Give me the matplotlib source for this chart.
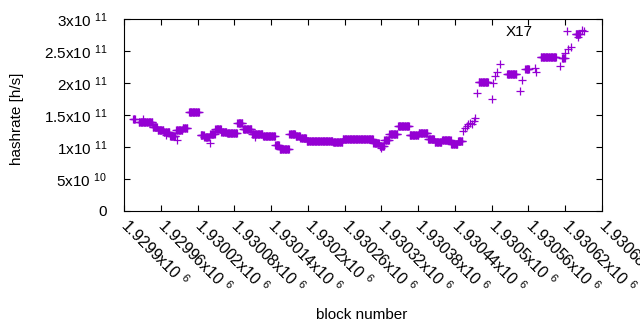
import matplotlib
matplotlib.use('Agg')
import matplotlib.pyplot as plt
import numpy as np

# --- data: runs of blocks with a constant hashrate ---
# (first block, last block, hashrate in units of 1e11 h/s)
run_start = [1929915, 1929924, 1929931, 1929947, 1929955, 1929965, 1929968, 1929975,
             1929986, 1929985, 1929996, 1930006, 1930025, 1930031, 1930040, 1930041,
             1930049, 1930059, 1930068, 1930085, 1930094, 1930109, 1930113, 1930127,
             1930147, 1930154, 1930170, 1930180, 1930188, 1930198, 1930241, 1930257,
             1930307, 1930317, 1930320, 1930325, 1930333, 1930347, 1930366, 1930381,
             1930396, 1930407, 1930419, 1930434, 1930445,
             1930453, 1930456, 1930459, 1930462, 1930465, 1930468, 1930471, 1930473,
             1930476, 1930479, 1930501, 1930502, 1930505, 1930509, 1930514,
             1930525, 1930546, 1930549, 1930555, 1930570, 1930572,
             1930580, 1930611, 1930615, 1930620, 1930625, 1930629,
             1930637, 1930641, 1930648, 1930651]
run_end = [1929918, 1929946, 1929931, 1929954, 1929964, 1929974, 1929968, 1929984,
           1929986, 1929995, 1930003, 1930022, 1930030, 1930038, 1930040, 1930048,
           1930058, 1930067, 1930084, 1930093, 1930108, 1930126, 1930113, 1930146,
           1930153, 1930169, 1930179, 1930187, 1930197, 1930240, 1930256, 1930306,
           1930316, 1930324, 1930320, 1930332, 1930346, 1930365, 1930380, 1930395,
           1930406, 1930418, 1930433, 1930444, 1930452,
           1930453, 1930456, 1930459, 1930462, 1930465, 1930468, 1930471, 1930473,
           1930476, 1930494, 1930501, 1930502, 1930505, 1930509, 1930514,
           1930540, 1930546, 1930549, 1930561, 1930570, 1930572,
           1930605, 1930611, 1930619, 1930620, 1930625, 1930629,
           1930644, 1930641, 1930648, 1930651]
run_value = [1.43, 1.39, 1.44, 1.32, 1.26, 1.23, 1.19, 1.17,
             1.11, 1.27, 1.30, 1.54, 1.195, 1.15, 1.07, 1.20,
             1.28, 1.24, 1.22, 1.37, 1.28, 1.20, 1.16, 1.17,
             1.03, 0.97, 1.20, 1.17, 1.14, 1.10, 1.08, 1.125,
             1.07, 1.02, 0.98, 1.11, 1.20, 1.33, 1.19, 1.22,
             1.125, 1.08, 1.11, 1.04, 1.09,
             1.25, 1.30, 1.33, 1.36, 1.38, 1.36, 1.41, 1.45,
             1.84, 2.02, 1.75, 2.00, 2.11, 2.17, 2.30,
             2.14, 1.875, 2.05, 2.22, 2.23, 2.17,
             2.41, 2.27, 2.39, 2.47, 2.53, 2.57,
             2.77, 2.72, 2.83, 2.81]

yticks = [0, 0.5e11, 1e11, 1.5e11, 2e11, 2.5e11, 3e11]
ytick_labels = ['0', '5x10 $^{10}$', '1x10 $^{11}$', '1.5x10 $^{11}$',
                '2x10 $^{11}$', '2.5x10 $^{11}$', '3x10 $^{11}$']
xticks = [1929900, 1929960, 1930020, 1930080, 1930140, 1930200, 1930260,
          1930320, 1930380, 1930440, 1930500, 1930560, 1930620, 1930680]
xtick_labels = ['1.9299x10 $^{6}$', '1.92996x10 $^{6}$', '1.93002x10 $^{6}$',
                '1.93008x10 $^{6}$', '1.93014x10 $^{6}$', '1.9302x10 $^{6}$',
                '1.93026x10 $^{6}$', '1.93032x10 $^{6}$', '1.93038x10 $^{6}$',
                '1.93044x10 $^{6}$', '1.9305x10 $^{6}$', '1.93056x10 $^{6}$',
                '1.93062x10 $^{6}$', '1.93068x10 $^{6}$']

# expand the runs into one point per block
blocks, rates = [], []
for s, e, v in zip(run_start, run_end, run_value):
    for b in range(s, e + 1):
        blocks.append(b)
        rates.append(v * 1e11)

plt.rcParams.update({
    'font.family': 'Liberation Sans',
    'font.size': 11,
    'mathtext.fontset': 'custom',
    'mathtext.rm': 'Liberation Sans',
    'mathtext.it': 'Liberation Sans',
})

W, H = 640, 330
fig = plt.figure(figsize=(W / 100, H / 100), dpi=100)
ax = fig.add_axes([124 / W, 1 - 211 / H, (602 - 124) / W, (211 - 19) / H])

ax.plot(blocks, rates, linestyle='none', marker='+', color='#9400D3',
        markersize=5.6, markeredgewidth=0.9, label='X17')

ax.set_xlim(xticks[0], xticks[-1])
ax.set_ylim(yticks[0], yticks[-1])
ax.set_yticks(yticks)
ax.set_yticklabels(ytick_labels)
ax.set_xticks(xticks)
ax.set_xticklabels(xtick_labels, rotation=-45, ha='left', va='center',
                   rotation_mode='anchor')

ax.tick_params(direction='in', length=4, width=0.8, top=True, right=True,
               colors='black')
ax.tick_params(axis='y', pad=12)
ax.tick_params(axis='x', pad=8, labelsize=11.5)
for sp in ax.spines.values():
    sp.set_linewidth(0.8)

fig.text(17 / W, 1 - 119 / H, 'hashrate [h/s]', rotation=90,
         ha='center', va='center')
fig.text(362 / W, 1 - 315 / H, 'block number', ha='center', va='center')

ax.legend(loc='center right', bbox_to_anchor=(582 / W, 1 - 32 / H),
          bbox_transform=fig.transFigure, frameon=False, markerfirst=False,
          borderpad=0, borderaxespad=0, handlelength=2, handletextpad=1.2)

fig.savefig('out.png', dpi=100)
